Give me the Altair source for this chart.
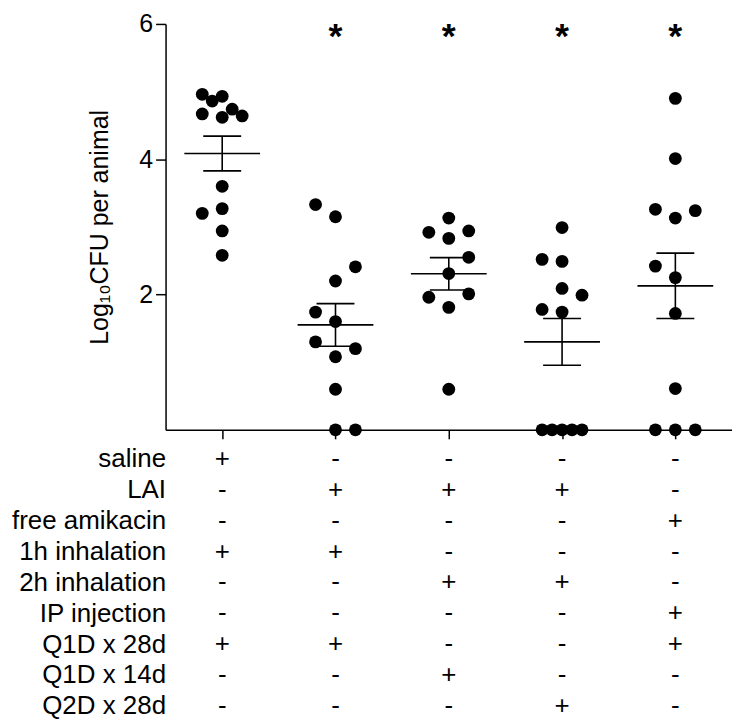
import altair as alt
import pandas as pd
import numpy as np

# ---------------- data ----------------
group_ids = [0, 1, 2, 3, 4]

g1_vals = [4.96, 4.86, 4.93, 4.67, 4.74, 4.62, 4.64, 3.60, 3.27, 3.20, 2.94, 2.58]
g1_slot = [-2, -1, 0, -2, 1, 0, 2, 0, 0, -2, 0, 0]
g2_vals = [3.33, 3.15, 2.41, 2.20, 1.74, 1.60, 1.30, 1.20, 1.08, 0.60, 0.0, 0.0]
g2_slot = [-2, 0, 2, 0, -2, 0, -2, 2, 0, 0, 0, 2]
g3_vals = [3.13, 2.92, 2.94, 2.83, 2.55, 2.31, 2.01, 1.96, 1.81, 0.60]
g3_slot = [0, -2, 2, 0, 2, 0, 2, -2, 0, 0]
g4_vals = [2.99, 2.52, 2.49, 2.09, 1.99, 1.78, 1.74, 0.0, 0.0, 0.0, 0.0, 0.0]
g4_slot = [0, -2, 0, 0, 2, -2, 0, -2, -1, 0, 1, 2]
g5_vals = [4.90, 4.01, 3.26, 3.24, 3.13, 2.42, 2.25, 1.72, 0.61, 0.0, 0.0, 0.0]
g5_slot = [0, 0, -2, 2, 0, -2, 0, 0, 0, -2, 0, 2]

star_text = ["", "*", "*", "*", "*"]
star_level = 5.75

rows = ["saline", "LAI", "free amikacin", "1h inhalation", "2h inhalation",
        "IP injection", "Q1D x 28d", "Q1D x 14d", "Q2D x 28d"]
signs = [
    ["+", "-", "-", "-", "-"],
    ["-", "+", "+", "+", "-"],
    ["-", "-", "-", "-", "+"],
    ["+", "+", "-", "-", "-"],
    ["-", "-", "+", "+", "-"],
    ["-", "-", "-", "-", "+"],
    ["+", "+", "-", "-", "+"],
    ["-", "-", "+", "-", "-"],
    ["-", "-", "-", "+", "-"],
]

# ---------------- layout constants ----------------
PLOT_W = 568
PLOT_H = 407
BAND = PLOT_W / 5.0
SLOT = 10.0 / BAND          # one beeswarm slot = 10 px
MEAN_HALF = 38.0 / BAND
CAP_HALF = 19.0 / BAND
FONT = "Liberation Sans"

all_vals = [g1_vals, g2_vals, g3_vals, g4_vals, g5_vals]
all_slots = [g1_slot, g2_slot, g3_slot, g4_slot, g5_slot]

pts_rows = []
sum_rows = []
cap_rows = []
for g, vals, slots in zip(group_ids, all_vals, all_slots):
    for v, s in zip(vals, slots):
        pts_rows.append({"g": g, "xpos": g + s * SLOT, "value": v})
    arr = np.array(vals)
    m = arr.mean()
    sem = arr.std(ddof=1) / np.sqrt(len(arr))
    sum_rows.append({"g": g, "mean": m, "lo": m - sem, "hi": m + sem,
                     "mx1": g - MEAN_HALF, "mx2": g + MEAN_HALF})
    for yv in (m - sem, m + sem):
        cap_rows.append({"g": g, "y": yv, "cx1": g - CAP_HALF, "cx2": g + CAP_HALF})

pts = pd.DataFrame(pts_rows)
summ = pd.DataFrame(sum_rows)
caps = pd.DataFrame(cap_rows)
star_df = pd.DataFrame({"g": group_ids, "t": star_text, "y": [star_level] * 5})

table = pd.DataFrame([
    {"row": r, "g": g, "sign": signs[i][g]}
    for i, r in enumerate(rows) for g in group_ids
])

xscale = alt.Scale(domain=[-0.5, 4.5], nice=False, zero=False)
yscale = alt.Scale(domain=[0, 6], nice=False, zero=False)

xaxis = alt.Axis(values=group_ids, labels=False, ticks=True, tickSize=9,
                 tickWidth=1.5, domainWidth=1.5, grid=False, title=None,
                 domainColor="black", tickColor="black")
yaxis = alt.Axis(values=[2, 4, 6], format="d", tickSize=10, tickWidth=1.5,
                 domainWidth=1.5, grid=False, labelFontSize=25, labelPadding=3,
                 labelFont=FONT, labelColor="black", domainColor="black",
                 tickColor="black",
                 title="Log₁₀CFU per animal", titleFont=FONT, titleFontSize=25,
                 titleFontWeight="normal", titleColor="black", titlePadding=26)

base_pts = alt.Chart(pts).mark_circle(size=165, color="black", opacity=1).encode(
    x=alt.X("xpos:Q", scale=xscale, axis=xaxis),
    y=alt.Y("value:Q", scale=yscale, axis=yaxis),
)

mean_rule = alt.Chart(summ).mark_rule(color="black", strokeWidth=1.6).encode(
    x=alt.X("mx1:Q", scale=xscale), x2="mx2:Q",
    y=alt.Y("mean:Q", scale=yscale),
)
vert_rule = alt.Chart(summ).mark_rule(color="black", strokeWidth=1.6).encode(
    x=alt.X("g:Q", scale=xscale),
    y=alt.Y("lo:Q", scale=yscale), y2="hi:Q",
)
cap_rule = alt.Chart(caps).mark_rule(color="black", strokeWidth=1.6).encode(
    x=alt.X("cx1:Q", scale=xscale), x2="cx2:Q",
    y=alt.Y("y:Q", scale=yscale),
)
stars = alt.Chart(star_df).mark_text(
    font=FONT, fontSize=36, fontWeight="bold", color="black",
    baseline="alphabetic", dy=7,
).encode(
    x=alt.X("g:Q", scale=xscale),
    y=alt.Y("y:Q", scale=yscale),
    text="t:N",
)

top = alt.layer(base_pts, mean_rule, vert_rule, cap_rule, stars).properties(
    width=PLOT_W, height=PLOT_H
)

bottom = alt.Chart(table).mark_text(
    font=FONT, fontSize=26, color="black", baseline="middle"
).encode(
    x=alt.X("g:Q", scale=xscale, axis=None),
    y=alt.Y("row:N", sort=rows,
            scale=alt.Scale(type="point", padding=0.3),
            axis=alt.Axis(title=None, ticks=False, domain=False, grid=False,
                          labelFont=FONT, labelFontSize=26, labelColor="black",
                          labelPadding=0, labelLimit=400)),
    text="sign:N",
).properties(width=PLOT_W, height=266)

chart = alt.vconcat(top, bottom, spacing=6).properties(
    padding={"left": 3, "top": 3, "right": 0, "bottom": 0}
).configure_view(stroke=None)

chart.save("out.html", embed_options={"renderer": "svg", "actions": False})
